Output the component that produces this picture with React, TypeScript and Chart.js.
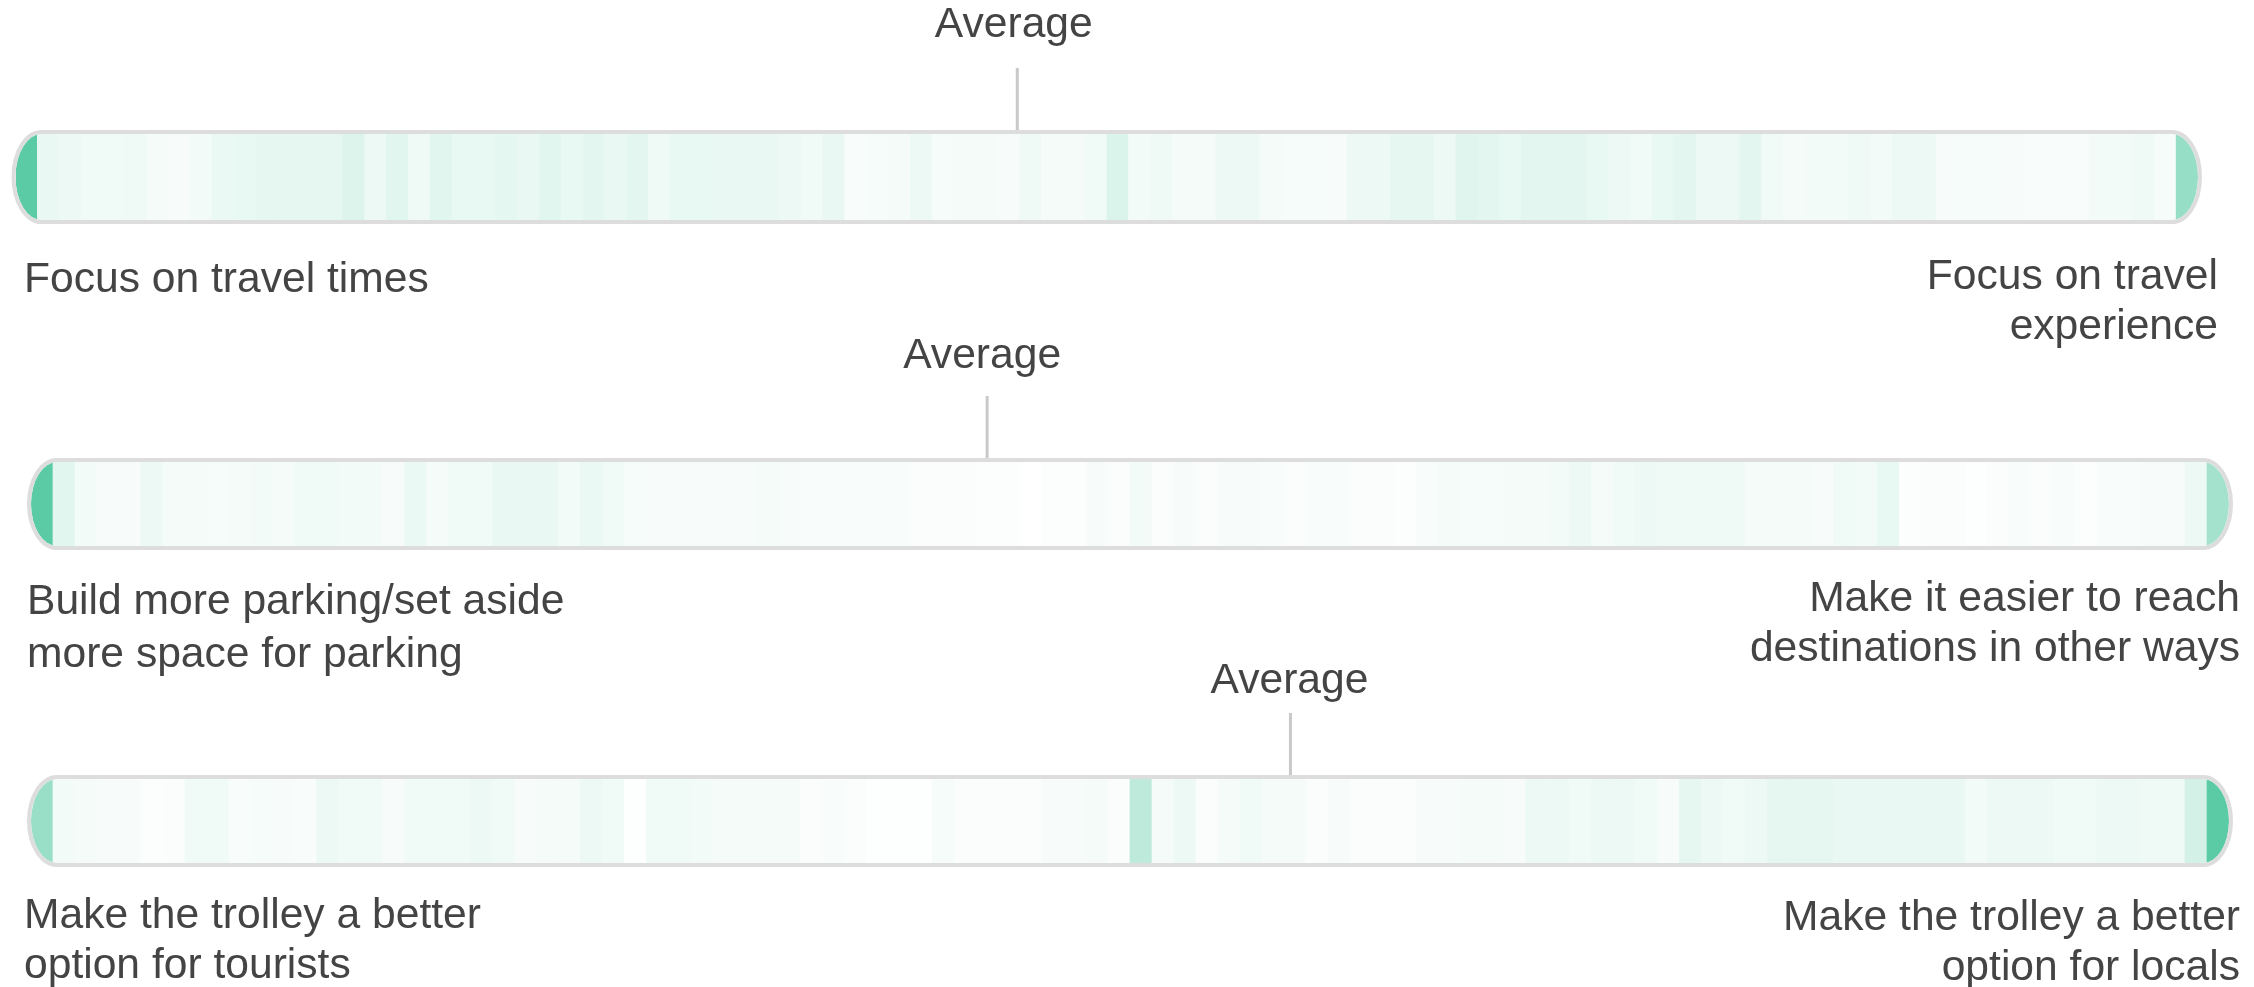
import React, { useEffect, useRef } from "react";
import { Chart, registerables } from "chart.js";

Chart.register(...registerables);

// Slider positions (one heat cell per position)
const scalePoints = [
  0, 1, 2, 3, 4, 5, 6, 7, 8, 9, 10, 11, 12, 13, 14, 15, 16, 17, 18, 19,
  20, 21, 22, 23, 24, 25, 26, 27, 28, 29, 30, 31, 32, 33, 34, 35, 36, 37, 38, 39,
  40, 41, 42, 43, 44, 45, 46, 47, 48, 49, 50, 51, 52, 53, 54, 55, 56, 57, 58, 59,
  60, 61, 62, 63, 64, 65, 66, 67, 68, 69, 70, 71, 72, 73, 74, 75, 76, 77, 78, 79,
  80, 81, 82, 83, 84, 85, 86, 87, 88, 89, 90, 91, 92, 93, 94, 95, 96, 97, 98, 99,
];

// Relative response intensity at each slider position (max = 100)
const travelCounts = [
  100, 13, 11, 9, 9, 10, 7, 5, 8, 12, 14, 15, 15, 15, 15, 21, 11, 18, 10, 18,
  14, 14, 16, 13, 18, 14, 17, 13, 17, 10, 14, 14, 13, 13, 13, 11, 9, 13, 4, 6,
  7, 11, 6, 7, 7, 5, 10, 7, 7, 9, 22, 8, 10, 7, 7, 11, 11, 7, 6, 6,
  5, 11, 11, 15, 15, 11, 19, 17, 14, 17, 17, 17, 14, 11, 9, 14, 17, 11, 11, 17,
  9, 7, 8, 8, 10, 8, 11, 11, 5, 6, 6, 5, 4, 4, 4, 8, 8, 10, 6, 64,
];

const parkingCounts = [
  100, 18, 8, 5, 5, 11, 7, 7, 6, 7, 8, 7, 9, 9, 8, 8, 5, 12, 7, 9,
  9, 13, 13, 13, 8, 12, 9, 6, 5, 5, 5, 5, 5, 7, 5, 4, 4, 4, 4, 4,
  3, 3, 3, 2, 2, 0, 2, 2, 5, 3, 8, 3, 5, 3, 5, 5, 4, 3, 4, 4,
  3, 3, 2, 4, 7, 6, 6, 7, 7, 8, 11, 7, 9, 11, 10, 10, 10, 10, 7, 7,
  7, 5, 9, 8, 14, 2, 3, 3, 1, 3, 4, 3, 4, 2, 4, 4, 5, 5, 11, 55,
];

const trolleyCounts = [
  62, 8, 7, 5, 5, 2, 3, 9, 9, 4, 6, 5, 4, 11, 9, 9, 5, 9, 9, 9,
  11, 9, 5, 7, 7, 11, 9, 1, 9, 9, 8, 7, 7, 7, 7, 3, 4, 3, 1, 1,
  1, 6, 3, 3, 3, 3, 5, 5, 7, 3, 40, 7, 11, 3, 7, 9, 7, 7, 3, 5,
  3, 3, 3, 5, 5, 7, 7, 5, 11, 11, 9, 11, 11, 9, 5, 15, 11, 9, 11, 15,
  15, 15, 13, 13, 13, 13, 13, 13, 8, 11, 11, 11, 9, 9, 11, 11, 10, 10, 26, 100,
];

const averageValues = [45.4, 43.0, 56.8];
const averageLabel = "Average";

const leftLabels = [
  ["Focus on travel times"],
  ["Build more parking/set aside", "more space for parking"],
  ["Make the trolley a better", "option for tourists"],
];
const rightLabels = [
  ["Focus on travel", "experience"],
  ["Make it easier to reach", "destinations in other ways"],
  ["Make the trolley a better", "option for locals"],
];

const rowCounts = [travelCounts, parkingCounts, trolleyCounts];

// ---------- layout / style (page pixels) ----------
const W = 2254;
const H = 987;
const GREEN = [91, 203, 165];
const BORDER = 4;
const CAP_RX = 30;
const FONT = '42.6px "Liberation Sans", Arial, Helvetica, sans-serif';
const TEXT_COLOR = "#444444";
const LINE_H = 50;

const rowLayouts = [
  { left: 11.5, right: 2202, top: 130, bottom: 224, avgBaseline: 37, avgDx: -3.5, leftX: 24, rightX: 2218, leftBase: 292, rightBase: 289, leftLineH: 50 },
  { left: 27, right: 2233, top: 458, bottom: 550, avgBaseline: 368, avgDx: -5, leftX: 27, rightX: 2240, leftBase: 614, rightBase: 611, leftLineH: 53 },
  { left: 27, right: 2233, top: 775, bottom: 867, avgBaseline: 693, avgDx: -1, leftX: 24, rightX: 2240, leftBase: 928, rightBase: 930, leftLineH: 50 },
];

function cellColor(count: number, max: number) {
  const a = count / max;
  const c = GREEN.map((g) => Math.round(255 - a * (255 - g)));
  return `rgb(${c[0]},${c[1]},${c[2]})`;
}

function capsulePath(ctx: CanvasRenderingContext2D, l: number, t: number, r: number, b: number, rx: number) {
  const ry = (b - t) / 2;
  const cy = (t + b) / 2;
  ctx.beginPath();
  ctx.moveTo(l + rx, t);
  ctx.lineTo(r - rx, t);
  ctx.ellipse(r - rx, cy, rx, ry, 0, -Math.PI / 2, Math.PI / 2);
  ctx.lineTo(l + rx, b);
  ctx.ellipse(l + rx, cy, rx, ry, 0, Math.PI / 2, Math.PI * 1.5);
  ctx.closePath();
}

function makeRowPlugin(rowIndex: number) {
  const L = rowLayouts[rowIndex];
  return {
    id: "heatRow" + rowIndex,
    beforeDatasetsDraw(chart: any) {
      const ctx = chart.ctx as CanvasRenderingContext2D;
      ctx.save();
      capsulePath(ctx, L.left + BORDER, L.top + BORDER, L.right - BORDER, L.bottom - BORDER, CAP_RX - BORDER);
      ctx.clip();
    },
    afterDatasetsDraw(chart: any) {
      const ctx = chart.ctx as CanvasRenderingContext2D;
      ctx.restore();
      // capsule border
      ctx.save();
      capsulePath(ctx, L.left + BORDER / 2, L.top + BORDER / 2, L.right - BORDER / 2, L.bottom - BORDER / 2, CAP_RX - BORDER / 2);
      ctx.lineWidth = BORDER;
      ctx.strokeStyle = "#dddddd";
      ctx.stroke();
      ctx.restore();

      // average marker
      const ax = chart.scales.x.getPixelForValue(averageValues[rowIndex]);
      ctx.save();
      ctx.strokeStyle = "#c9c9c9";
      ctx.lineWidth = 3;
      ctx.beginPath();
      ctx.moveTo(ax, L.top - 62);
      ctx.lineTo(ax, L.top);
      ctx.stroke();

      ctx.font = FONT;
      ctx.fillStyle = TEXT_COLOR;
      ctx.textBaseline = "alphabetic";
      ctx.textAlign = "center";
      ctx.fillText(averageLabel, ax + L.avgDx, L.avgBaseline);

      ctx.textAlign = "left";
      leftLabels[rowIndex].forEach((line, i) => ctx.fillText(line, L.leftX, L.leftBase + i * L.leftLineH));
      ctx.textAlign = "right";
      rightLabels[rowIndex].forEach((line, i) => ctx.fillText(line, L.rightX, L.rightBase + i * LINE_H));
      ctx.restore();
    },
  };
}

function HeatRow({ rowIndex }: { rowIndex: number }) {
  const ref = useRef<HTMLCanvasElement | null>(null);
  useEffect(() => {
    const canvas = ref.current;
    if (!canvas) return;
    const L = rowLayouts[rowIndex];
    const counts = rowCounts[rowIndex];
    const max = Math.max(...counts);
    const chart = new Chart(canvas, {
      type: "bar",
      data: {
        labels: scalePoints,
        datasets: [
          {
            data: counts.map(() => [0, 1]) as any,
            backgroundColor: counts.map((c) => cellColor(c, max)),
            borderWidth: 0,
            barPercentage: 1,
            categoryPercentage: 1,
          },
        ],
      },
      options: {
        responsive: false,
        animation: false,
        devicePixelRatio: 1,
        events: [],
        layout: {
          padding: {
            left: L.left + BORDER,
            right: W - (L.right - BORDER),
            top: L.top + BORDER,
            bottom: H - (L.bottom - BORDER),
          },
        },
        scales: {
          x: { display: false },
          y: { display: false, min: 0, max: 1 },
        },
        plugins: {
          legend: { display: false },
          tooltip: { enabled: false },
          title: { display: false },
        },
      },
      plugins: [makeRowPlugin(rowIndex)],
    });
    return () => chart.destroy();
  }, [rowIndex]);
  return (
    <canvas
      ref={ref}
      width={W}
      height={H}
      style={{ position: "absolute", left: 0, top: 0, width: W, height: H }}
    />
  );
}

export default function App() {
  return (
    <div style={{ position: "absolute", left: 0, top: 0, width: W, height: H, background: "#ffffff", overflow: "hidden" }}>
      <HeatRow rowIndex={0} />
      <HeatRow rowIndex={1} />
      <HeatRow rowIndex={2} />
    </div>
  );
}
